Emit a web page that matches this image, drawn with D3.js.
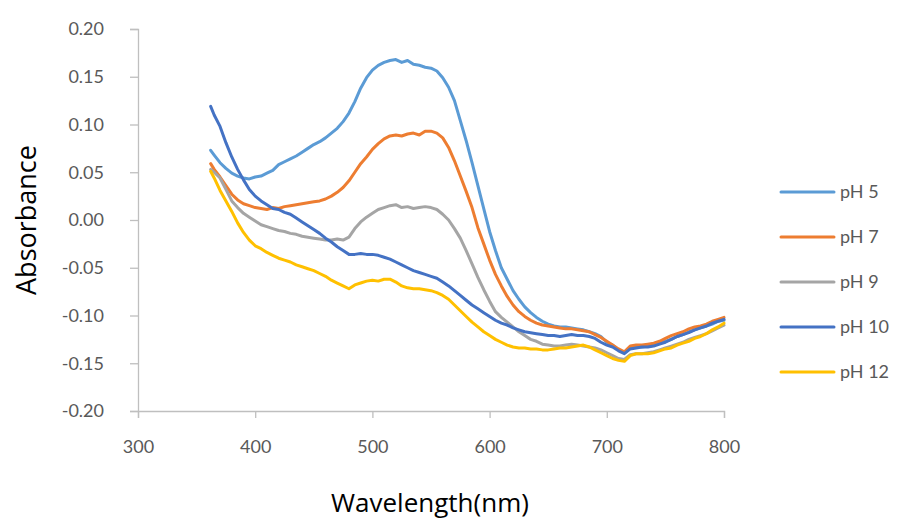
<!DOCTYPE html>
<html><head><meta charset="utf-8">
<script src="https://cdn.jsdelivr.net/npm/d3@7"></script>
<style>body{margin:0;background:#fff}svg{display:block}</style>
</head><body>
<svg id="c" width="898" height="523"></svg>
<script>
const wavelengths = [362,365,370,375,380,385,390,395,400,405,410,415,420,425,430,435,440,445,450,455,460,465,470,475,480,485,490,495,500,505,510,515,520,525,530,535,540,545,550,555,560,565,570,575,580,585,590,595,600,605,610,615,620,625,630,635,640,645,650,655,660,665,670,675,680,685,690,695,700,705,710,715,720,725,730,735,740,745,750,755,760,765,770,775,780,785,790,795,800];
const pH5 = [0.073,0.068,0.060,0.054,0.049,0.046,0.044,0.043,0.045,0.046,0.049,0.052,0.058,0.061,0.064,0.067,0.071,0.075,0.079,0.082,0.086,0.091,0.096,0.103,0.112,0.124,0.138,0.149,0.157,0.162,0.165,0.167,0.168,0.165,0.167,0.163,0.162,0.160,0.159,0.156,0.149,0.139,0.125,0.104,0.083,0.060,0.036,0.012,-0.012,-0.032,-0.050,-0.062,-0.074,-0.083,-0.091,-0.097,-0.102,-0.106,-0.109,-0.111,-0.112,-0.112,-0.113,-0.114,-0.115,-0.117,-0.119,-0.122,-0.128,-0.131,-0.136,-0.139,-0.134,-0.132,-0.133,-0.132,-0.131,-0.129,-0.127,-0.125,-0.122,-0.120,-0.117,-0.115,-0.113,-0.111,-0.109,-0.106,-0.105];
const pH7 = [0.059,0.053,0.045,0.036,0.027,0.021,0.017,0.015,0.013,0.012,0.011,0.013,0.012,0.014,0.015,0.016,0.017,0.018,0.019,0.020,0.022,0.025,0.029,0.034,0.041,0.050,0.059,0.066,0.074,0.080,0.085,0.088,0.089,0.088,0.090,0.091,0.089,0.093,0.093,0.091,0.086,0.076,0.062,0.046,0.030,0.013,-0.008,-0.025,-0.042,-0.057,-0.069,-0.080,-0.089,-0.096,-0.101,-0.105,-0.108,-0.110,-0.111,-0.112,-0.113,-0.114,-0.114,-0.115,-0.116,-0.117,-0.120,-0.123,-0.127,-0.131,-0.135,-0.138,-0.132,-0.131,-0.131,-0.130,-0.129,-0.127,-0.124,-0.121,-0.119,-0.117,-0.114,-0.112,-0.111,-0.109,-0.106,-0.104,-0.102];
const pH9 = [0.053,0.050,0.044,0.032,0.020,0.013,0.007,0.003,-0.001,-0.005,-0.007,-0.009,-0.011,-0.012,-0.014,-0.015,-0.017,-0.018,-0.019,-0.020,-0.021,-0.021,-0.020,-0.021,-0.018,-0.009,-0.002,0.003,0.007,0.011,0.013,0.015,0.016,0.013,0.014,0.012,0.013,0.014,0.013,0.011,0.006,0.000,-0.009,-0.019,-0.032,-0.046,-0.060,-0.073,-0.085,-0.096,-0.102,-0.107,-0.112,-0.117,-0.121,-0.125,-0.127,-0.130,-0.131,-0.132,-0.132,-0.131,-0.130,-0.131,-0.132,-0.133,-0.134,-0.136,-0.139,-0.142,-0.145,-0.146,-0.141,-0.140,-0.140,-0.139,-0.138,-0.136,-0.134,-0.132,-0.130,-0.128,-0.125,-0.123,-0.121,-0.119,-0.116,-0.113,-0.110];
const pH10 = [0.119,0.110,0.098,0.081,0.066,0.053,0.042,0.032,0.025,0.020,0.016,0.012,0.011,0.008,0.006,0.002,-0.002,-0.006,-0.010,-0.014,-0.019,-0.023,-0.028,-0.032,-0.036,-0.036,-0.035,-0.036,-0.036,-0.037,-0.039,-0.041,-0.044,-0.047,-0.050,-0.053,-0.055,-0.057,-0.059,-0.061,-0.065,-0.069,-0.074,-0.079,-0.084,-0.089,-0.093,-0.097,-0.101,-0.105,-0.108,-0.110,-0.113,-0.115,-0.117,-0.118,-0.119,-0.120,-0.121,-0.121,-0.122,-0.121,-0.120,-0.121,-0.121,-0.122,-0.124,-0.128,-0.131,-0.133,-0.137,-0.140,-0.135,-0.134,-0.133,-0.133,-0.132,-0.130,-0.128,-0.125,-0.122,-0.120,-0.118,-0.115,-0.113,-0.111,-0.108,-0.106,-0.104];
const pH12 = [0.051,0.044,0.031,0.020,0.009,-0.003,-0.013,-0.021,-0.027,-0.030,-0.034,-0.037,-0.040,-0.042,-0.044,-0.047,-0.049,-0.051,-0.053,-0.056,-0.059,-0.063,-0.066,-0.069,-0.072,-0.068,-0.066,-0.064,-0.063,-0.064,-0.062,-0.062,-0.065,-0.069,-0.071,-0.072,-0.072,-0.073,-0.074,-0.076,-0.079,-0.083,-0.089,-0.095,-0.101,-0.107,-0.112,-0.117,-0.121,-0.125,-0.128,-0.131,-0.133,-0.134,-0.134,-0.135,-0.135,-0.136,-0.136,-0.135,-0.134,-0.134,-0.133,-0.132,-0.131,-0.133,-0.136,-0.139,-0.142,-0.145,-0.147,-0.148,-0.142,-0.140,-0.140,-0.140,-0.139,-0.137,-0.135,-0.134,-0.131,-0.129,-0.127,-0.124,-0.122,-0.119,-0.115,-0.112,-0.108];
const seriesNames = ["pH 5","pH 7","pH 9","pH 10","pH 12"];
const seriesValues = [pH5,pH7,pH9,pH10,pH12];
const seriesColors = ["#5b9bd5","#ed7d31","#a5a5a5","#4472c4","#ffc000"];
const xTicks = [300,400,500,600,700,800];
const yTicks = [-0.20,-0.15,-0.10,-0.05,0.00,0.05,0.10,0.15,0.20];

const svg = d3.select("#c");
const x = d3.scaleLinear().domain([300,800]).range([138,724]);
const y = d3.scaleLinear().domain([-0.20,0.20]).range([411,29]);
const axisColor = "#bfbfbf", textColor = "#595959";
const font = "Lato, 'Open Sans', sans-serif";

const xa = svg.append("g").attr("transform","translate(0,411)")
  .call(d3.axisBottom(x).tickValues(xTicks).tickSize(7).tickPadding(22).tickFormat(d3.format("d")));
const ya = svg.append("g").attr("transform","translate(138,0)")
  .call(d3.axisLeft(y).tickValues(yTicks).tickSize(8).tickPadding(26).tickFormat(d3.format(".2f")));
[xa,ya].forEach(g=>{
  g.select(".domain").attr("stroke",axisColor).attr("stroke-width",1.3);
  g.selectAll(".tick line").attr("stroke",axisColor).attr("stroke-width",1.3);
  g.selectAll(".tick text").attr("fill",textColor).style("font-family",font).style("font-size","18px");
});
ya.selectAll(".tick text").text(d=>d3.format(".2f")(d).replace("−","-"));

const line = d3.line().x((d,i)=>x(wavelengths[i])).y(d=>y(d));
seriesValues.forEach((vals,k)=>{
  svg.append("path").datum(vals).attr("d",line).attr("fill","none")
    .attr("stroke",seriesColors[k]).attr("stroke-width",3).attr("stroke-linejoin","round").attr("stroke-linecap","round");
});

const lg = svg.append("g");
seriesNames.forEach((n,k)=>{
  const yy = 192 + k*45;
  lg.append("line").attr("x1",781).attr("x2",834).attr("y1",yy).attr("y2",yy)
    .attr("stroke",seriesColors[k]).attr("stroke-width",3).attr("stroke-linecap","round");
  lg.append("text").attr("x",840).attr("y",yy+6).text(n).attr("fill",textColor)
    .style("font-family",font).style("font-size","18px");
});

svg.append("text").attr("transform","translate(36,220) rotate(-90)").attr("text-anchor","middle")
  .text("Absorbance").style("font-family","'Open Sans', sans-serif").style("font-size","27px").attr("fill","#000");
svg.append("text").attr("x",430).attr("y",512).attr("text-anchor","middle")
  .text("Wavelength(nm)").style("font-family","'Open Sans', sans-serif").style("font-size","26px").attr("fill","#000");
</script>
</body></html>
